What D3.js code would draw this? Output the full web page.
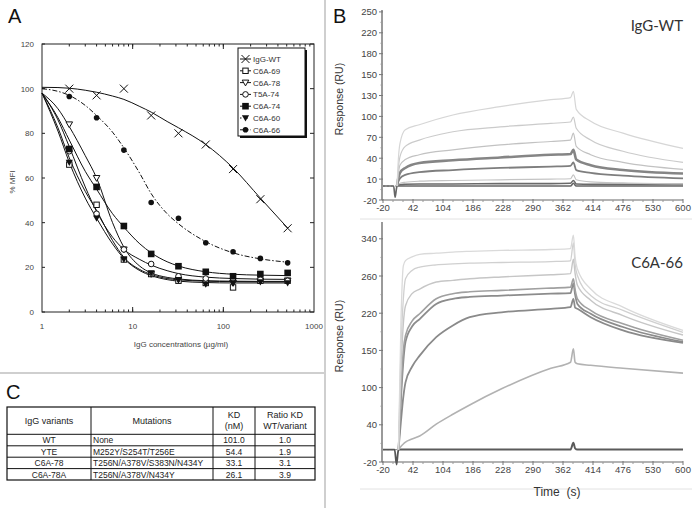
<!DOCTYPE html>
<html><head><meta charset="utf-8">
<script src="https://cdn.jsdelivr.net/npm/d3@7"></script>
<style>body{margin:0;background:#fff}svg{display:block}</style>
</head><body>
<svg id="c" width="700" height="508"></svg>
<script>
// ---------- Panel A data ----------
const concentrations = [2,4,8,16,32,64,128,256,512];
const seriesNames = ["IgG-WT","C6A-69","C6A-78","T5A-74","C6A-74","C6A-60","C6A-66"];
const mfiWT   = [100,97,100,88,80,75,64,50.5,37.5];
const mfi69   = [66,48,23.5,17,14,13,11,14,14];
const mfi78   = [84,60,28,17,14.5,13,13,14,14];
const mfiT574 = [72,44,28,21.5,16,15,15,14.5,14];
const mfi74   = [73,56,38.5,26,20.5,18,16,17,17.5];
const mfi60   = [67,42,23.5,17.5,14.5,12.5,13,13.5,13];
const mfi66   = [96.5,87,72.5,49,42,31,27,24,22];
const fitConc = [1,1.5,2,3,4,6,8,12,16,24,32,64,128,256,512];
const fitWT   = [100.6,100.5,100.2,99.3,98.4,96.7,95.2,92,89.5,85.3,82.5,75,64.5,51,37.6];
const fit69   = [98,82.5,69,54,45.5,32,24.5,19,16.8,15,14.4,13.8,13.6,13.5,13.5];
const fit78   = [98,91,83,70,60,40,29,20.5,17.5,15.5,14.8,14,13.8,13.7,13.7];
const fitT574 = [98,86,74,56,45,33.5,28,23.5,21,18.5,17.2,15.6,15,14.7,14.6];
const fit74   = [98,87,77,63,55,44,38,30.5,26.5,22.5,20.6,18,16.9,16.5,16.3];
const fit60   = [98,81,67,51,42,30.5,24,18.5,16.3,14.5,13.8,13.2,13,13,13];
const fit66   = [100,98.8,97,92.5,88,80.5,73.5,62,53,44,39.5,31.5,26.5,23.8,22.3];
const mfiTicks = [0,20,40,60,80,100,120];
const concTicks = [1,10,100,1000];

// ---------- Panel B data ----------
const timeTicks = [-20,42,104,186,228,290,362,414,476,530,600];
const ruTicksTop = [-20,10,40,70,100,130,150,180,220,250];
const ruTicksBot = [-20,40,100,150,220,260,340];
// top sensorgram (IgG-WT): times and responses
const tTop = [9,11,15,26,55,131,224,333,375,380,385,410,476,600];
const wt1 = [0,30,61,81,88,102,114,124,127,134,110,93,76,54];
const wt2 = [0,20,42,57,66,78,85,90,92,99,83,66,50,34];
const wt3 = [0,14,30,38,45,52,59,64,66,76,57,45,34,24];
const wt4 = [0,9,19,26,33,37,41,45,46,52,38,30,23,18];
const wt5 = [0,5,11,16,20,23,26,28,29,34,23,19,15,11];
const wt6 = [0,2,4,5.5,7,8,9,10,10.5,16,9,6,4.5,3];
const wt7 = [0,1,2,2.5,3,3,3.5,3.5,4,8,3,2.5,2.5,2.5];
const tBase = [-20,2,5,8,9,375,380,385,600];
const wtBase = [0,0,-16,-3,0,0,4,0,0];
// bottom sensorgram (C6A-66)
const tBot = [12,17,22,26.5,40,55.8,90,131,177,226,333,375,380,383,387,410,476,600];
const c1 = [0,200,282,293,301,306.6,309,311.5,313,315,317,319,348,300,275,246,226.5,187.5];
const c2 = [0,150,235,257,272,279,284,286,287.5,289,291,292.7,331,285,261,239,223,184];
const c3 = [0,120,200,228,241,246,253.5,255.3,257,259,262.8,265,296,265,250,234,215.6,179];
const c4 = [0,90,150,178,205,219,235.5,241,243,244.5,247,248,257,245,235.5,223,200,169];
const c5 = [0,80,135,166,195,209,230,235.5,237.5,239,241,241.6,252,240,230,219,194,166];
const c6 = [0,45,85,107,128,143,175,197,212.5,221,224.7,226.5,235.5,226,224.7,212.5,187.5,164];
const c7 = [0,5,9,12,17,22,41,57,72,98,126,134,153,134,132,130,126,119.5];
const c8 = [0,0,0,0,0,0,0,0,0,0,0,0,11,2,0,0,0,0];
const tBotBase = [-20,4,8,11,12];
const cBase = [0,0,-24,-4,0];

// ---------- Panel C data ----------
const tableHeader = [["IgG variants"],["Mutations"],["KD","(nM)"],["Ratio KD","WT/variant"]];
const variants = ["WT","YTE","C6A-78","C6A-78A"];
const mutations = ["None","M252Y/S254T/T256E","T256N/A378V/S383N/N434Y","T256N/A378V/N434Y"];
const kdValues = [101.0,54.4,33.1,26.1];
const ratioKD = [1.0,1.9,3.1,3.9];

const svg = d3.select("#c");
const FONT = "'Liberation Sans', Arial, sans-serif";
svg.append("rect").attr("width",700).attr("height",508).attr("fill","#fff");

// separators
svg.append("line").attr("x1",325).attr("x2",325).attr("y1",0).attr("y2",508).attr("stroke","#cfcfcf").attr("stroke-width",2);
svg.append("line").attr("x1",0).attr("x2",325).attr("y1",373).attr("y2",373).attr("stroke","#cfcfcf").attr("stroke-width",2);
svg.append("line").attr("x1",360).attr("x2",692).attr("y1",219).attr("y2",219).attr("stroke","#e2e2e2").attr("stroke-width",1);
svg.append("line").attr("x1",360).attr("x2",692).attr("y1",489).attr("y2",489).attr("stroke","#e2e2e2").attr("stroke-width",1);

// panel letters
[["A",8,23],["B",333,23],["C",6,399]].forEach(([t,x,y])=>{
  svg.append("text").attr("x",x).attr("y",y).text(t).attr("font-family",FONT).attr("font-size",20).attr("fill","#111");
});

// ================= Panel A =================
const xA = d3.scaleLog().domain([1,1000]).range([42,314]);
const yA = d3.scaleLinear().domain([0,120]).range([312,44]);
const gA = svg.append("g");
gA.append("rect").attr("x",xA(1)).attr("y",yA(120)).attr("width",xA(1000)-xA(1)).attr("height",yA(0)-yA(120))
  .attr("fill","none").attr("stroke","#222").attr("stroke-width",1);
mfiTicks.forEach(v=>{
  gA.append("line").attr("x1",xA(1)).attr("x2",xA(1)+3).attr("y1",yA(v)).attr("y2",yA(v)).attr("stroke","#222");
  gA.append("line").attr("x1",xA(1000)).attr("x2",xA(1000)-4).attr("y1",yA(v)).attr("y2",yA(v)).attr("stroke","#222");
  gA.append("text").attr("x",34).attr("y",yA(v)+3).attr("text-anchor","end").text(v)
    .attr("font-family",FONT).attr("font-size",8).attr("fill","#444");
});
for (let dec=1; dec<1000; dec*=10){
  for (let m=1;m<=10;m++){
    const v=dec*m; if(v<=1||v>=1000) continue;
    const len = (m===10)?5:2.5;
    gA.append("line").attr("x1",xA(v)).attr("x2",xA(v)).attr("y1",yA(0)).attr("y2",yA(0)-len).attr("stroke","#222");
    gA.append("line").attr("x1",xA(v)).attr("x2",xA(v)).attr("y1",yA(120)).attr("y2",yA(120)+len).attr("stroke","#222");
  }
}
concTicks.forEach(v=>{
  gA.append("text").attr("x",xA(v)).attr("y",329).attr("text-anchor","middle").text(v)
    .attr("font-family",FONT).attr("font-size",8).attr("fill","#444");
});
gA.append("text").attr("x",181).attr("y",347).attr("text-anchor","middle").text("IgG concentrations (µg/ml)")
  .attr("font-family",FONT).attr("font-size",8).attr("fill","#444");
gA.append("text").attr("transform","translate(15,182) rotate(-90)").attr("text-anchor","middle").text("% MFI")
  .attr("font-family",FONT).attr("font-size",8).attr("fill","#444");

const seriesA = [
  {name:"IgG-WT", pts:mfiWT, fit:fitWT, marker:"x", dash:null},
  {name:"C6A-69", pts:mfi69, fit:fit69, marker:"sqo", dash:null},
  {name:"C6A-78", pts:mfi78, fit:fit78, marker:"trio", dash:null},
  {name:"T5A-74", pts:mfiT574, fit:fitT574, marker:"cio", dash:null},
  {name:"C6A-74", pts:mfi74, fit:fit74, marker:"sqf", dash:null},
  {name:"C6A-60", pts:mfi60, fit:fit60, marker:"trif", dash:null, legendDash:"1.5,5"},
  {name:"C6A-66", pts:mfi66, fit:fit66, marker:"cif", dash:"5,2,1.5,2"},
];
function drawMarker(g,type,x,y){
  const s = g.append("g").attr("transform",`translate(${x},${y})`);
  if(type==="x") s.append("path").attr("d","M-4,-4L4,4M-4,4L4,-4").attr("stroke","#111").attr("stroke-width",1).attr("fill","none");
  else if(type==="sqo") s.append("rect").attr("x",-2.7).attr("y",-2.7).attr("width",5.4).attr("height",5.4).attr("fill","#fff").attr("stroke","#111");
  else if(type==="sqf") s.append("rect").attr("x",-3.3).attr("y",-3.3).attr("width",6.6).attr("height",6.6).attr("fill","#111");
  else if(type==="trio") s.append("path").attr("d","M-3.3,-2.5L3.3,-2.5L0,3.3Z").attr("fill","#fff").attr("stroke","#111");
  else if(type==="trif") s.append("path").attr("d","M-3.6,-2.7L3.6,-2.7L0,3.6Z").attr("fill","#111");
  else if(type==="cio") s.append("circle").attr("r",2.8).attr("fill","#fff").attr("stroke","#111");
  else if(type==="cif") s.append("circle").attr("r",2.8).attr("fill","#111");
}
const lineA = d3.line().x(d=>xA(d[0])).y(d=>yA(d[1])).curve(d3.curveMonotoneX);
seriesA.forEach(s=>{
  gA.append("path").attr("d",lineA(fitConc.map((c,i)=>[c,s.fit[i]]))).attr("fill","none")
    .attr("stroke","#111").attr("stroke-width",1).attr("stroke-dasharray",s.dash);
});
seriesA.forEach(s=>{
  concentrations.forEach((c,i)=>drawMarker(gA,s.marker,xA(c),yA(s.pts[i])));
});
const lg = gA.append("g");
lg.append("rect").attr("x",240).attr("y",50).attr("width",67).attr("height",88).attr("fill","#111");
lg.append("rect").attr("x",238).attr("y",48).attr("width",67).attr("height",88).attr("fill","#fff").attr("stroke","#111").attr("stroke-width",1);
seriesA.forEach((s,i)=>{
  const y = 59 + i*11.8;
  lg.append("line").attr("x1",240).attr("x2",251).attr("y1",y).attr("y2",y).attr("stroke","#111")
    .attr("stroke-dasharray",s.legendDash||s.dash);
  drawMarker(lg,s.marker,245.5,y);
  lg.append("text").attr("x",253).attr("y",y+3).text(s.name).attr("font-family",FONT).attr("font-size",8).attr("fill","#333");
});

// ================= Panel B =================
const xB = d3.scaleLinear().domain(timeTicks).range(timeTicks.map((d,i)=>383+i*30));
function sensorPanel(ruTicks, y0, step, axisTop, title, titleY, series){
  const y = d3.scaleLinear().domain(ruTicks).range(ruTicks.map((d,i)=>y0-i*step));
  const g = svg.append("g");
  const axisCol = "#9a9a9a";
  g.append("line").attr("x1",382).attr("x2",382).attr("y1",axisTop).attr("y2",y0).attr("stroke",axisCol).attr("stroke-width",2);
  g.append("line").attr("x1",382).attr("x2",683).attr("y1",y0).attr("y2",y0).attr("stroke",axisCol).attr("stroke-width",1.5);
  ruTicks.forEach((v,i)=>{
    g.append("line").attr("x1",379).attr("x2",383).attr("y1",y(v)).attr("y2",y(v)).attr("stroke","#777");
    if(i<ruTicks.length-1){
      const ym=(y(v)+y(ruTicks[i+1]))/2;
      g.append("line").attr("x1",380.5).attr("x2",383).attr("y1",ym).attr("y2",ym).attr("stroke","#999");
    }
    g.append("text").attr("x",377).attr("y",y(v)+3.5).attr("text-anchor","end").text(v)
      .attr("font-family",FONT).attr("font-size",9.5).attr("fill","#444");
  });
  timeTicks.forEach((t,i)=>{
    g.append("line").attr("x1",xB(t)).attr("x2",xB(t)).attr("y1",y0-1).attr("y2",y0+3).attr("stroke","#777");
    if(i<timeTicks.length-1){
      for(const f of [1/3,2/3]){
        const xm = xB(t)+(xB(timeTicks[i+1])-xB(t))*f;
        g.append("line").attr("x1",xm).attr("x2",xm).attr("y1",y0).attr("y2",y0+2).attr("stroke","#999");
      }
    }
    g.append("text").attr("x",xB(t)).attr("y",y0+11).attr("text-anchor","middle").text(t)
      .attr("font-family",FONT).attr("font-size",9.5).attr("fill","#444");
  });
  g.append("line").attr("x1",xB(-20)).attr("x2",xB(12)).attr("y1",y(0)).attr("y2",y(0))
    .attr("stroke","#888").attr("stroke-dasharray","2,2").attr("stroke-width",1);
  const line = d3.line().x(d=>xB(d[0])).y(d=>y(d[1])).curve(d3.curveMonotoneX);
  series.forEach(s=>{
    g.append("path").attr("d",line(s.t.map((t,i)=>[t,s.v[i]]))).attr("fill","none")
      .attr("stroke",s.c).attr("stroke-width",s.w);
  });
  g.append("text").attr("x",683).attr("y",titleY).attr("text-anchor","end").text(title)
    .attr("font-family","Lato, 'Open Sans', sans-serif").attr("font-size",15).attr("fill","#333");
  g.append("text").attr("transform",`translate(343,${(axisTop+y0)/2-6}) rotate(-90)`).attr("text-anchor","middle")
    .text("Response (RU)").attr("font-family",FONT).attr("font-size",10.5).attr("fill","#333");
}
sensorPanel(ruTicksTop, 200, 20.9, 10, "IgG-WT", 31, [
  {t:tBase,v:wtBase,c:"#666",w:1.6},
  {t:tTop,v:wt7,c:"#6a6a6a",w:1.6},
  {t:tTop,v:wt6,c:"#c4c4c4",w:1.2},
  {t:tTop,v:wt5,c:"#7e7e7e",w:1.8},
  {t:tTop,v:wt4,c:"#858585",w:2.6},
  {t:tTop,v:wt3,c:"#c2c2c2",w:1.2},
  {t:tTop,v:wt2,c:"#cbcbcb",w:1.2},
  {t:tTop,v:wt1,c:"#d6d6d6",w:1.2},
]);
sensorPanel(ruTicksBot, 462, 37.2, 222, "C6A-66", 268, [
  {t:tBotBase,v:cBase,c:"#555",w:1.8},
  {t:tBot,v:c8,c:"#5a5a5a",w:2},
  {t:tBot,v:c7,c:"#b2b2b2",w:1.6},
  {t:tBot,v:c6,c:"#8a8a8a",w:1.8},
  {t:tBot,v:c5,c:"#8c8c8c",w:1.8},
  {t:tBot,v:c4,c:"#a0a0a0",w:1.6},
  {t:tBot,v:c3,c:"#c6c6c6",w:1.4},
  {t:tBot,v:c2,c:"#d0d0d0",w:1.3},
  {t:tBot,v:c1,c:"#dadada",w:1.3},
]);
svg.append("text").attr("x",557).attr("y",496).attr("text-anchor","middle").text("Time  (s)")
  .style("white-space","pre").attr("font-family",FONT).attr("font-size",12).attr("fill","#333");

// ================= Panel C =================
const colX = [7,91,213,255,315];
const rowY = [407,434.3,445.8,457.2,468.6,480];
const gC = svg.append("g");
gC.append("rect").attr("x",colX[0]).attr("y",rowY[0]).attr("width",colX[4]-colX[0]).attr("height",rowY[5]-rowY[0])
  .attr("fill","none").attr("stroke","#111").attr("stroke-width",1.2);
colX.slice(1,4).forEach(x=>gC.append("line").attr("x1",x).attr("x2",x).attr("y1",rowY[0]).attr("y2",rowY[5]).attr("stroke","#111").attr("stroke-width",1));
rowY.slice(1,5).forEach(y=>gC.append("line").attr("x1",colX[0]).attr("x2",colX[4]).attr("y1",y).attr("y2",y).attr("stroke","#111").attr("stroke-width",1));
tableHeader.forEach((lines,j)=>{
  const cx=(colX[j]+colX[j+1])/2;
  const startY = lines.length===1 ? 424 : 417.5;
  lines.forEach((l,k)=>gC.append("text").attr("x",cx).attr("y",startY+k*11).attr("text-anchor","middle").text(l)
    .attr("font-family",FONT).attr("font-size",9).attr("fill","#222"));
});
variants.forEach((v,i)=>{
  const by = rowY[i+1]+9;
  const cells = [
    [v,(colX[0]+colX[1])/2,"middle"],
    [mutations[i],colX[1]+2,"start"],
    [kdValues[i].toFixed(1),(colX[2]+colX[3])/2,"middle"],
    [ratioKD[i].toFixed(1),(colX[3]+colX[4])/2,"middle"]
  ];
  cells.forEach(([t,x,a])=>gC.append("text").attr("x",x).attr("y",by).attr("text-anchor",a).text(t)
    .attr("font-family",FONT).attr("font-size",8.5).attr("fill","#222"));
});
</script>
</body></html>
